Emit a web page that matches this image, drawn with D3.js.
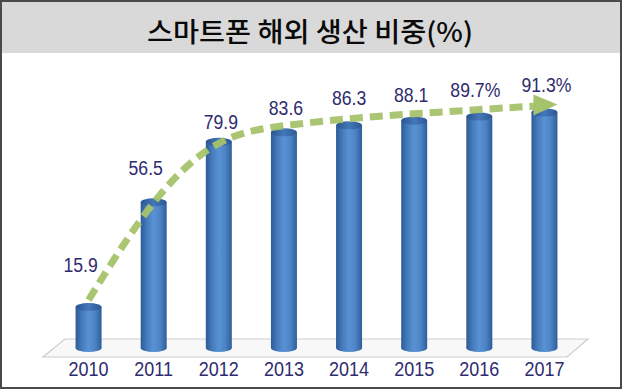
<!DOCTYPE html>
<html>
<head>
<meta charset="utf-8">
<script src="https://cdn.jsdelivr.net/npm/d3@7"></script>
<style>
	body { margin: 0; background: #fff; }
	svg { display: block; font-family: "Liberation Sans", Arial, sans-serif; }
</style>
</head>
<body>
<svg id="chart" width="622" height="389"></svg>
<script>

const TITLE = '스마트폰 해외 생산 비중(%)';
const YEARS = ['2010', '2011', '2012', '2013', '2014', '2015', '2016', '2017'];
const SHARE = [15.9, 56.5, 79.9, 83.6, 86.3, 88.1, 89.7, 91.3];
const VALUE_LABELS = ['15.9', '56.5', '79.9', '83.6', '86.3', '88.1', '89.7%', '91.3%'];

// hand placement of the value labels (dx, dy from bar top)
const LABEL_NUDGE = [[-8, -35], [-8, -27], [2, -13], [2, -17], [0, -20], [-3, -19], [-4, -20], [2, -20]];

function whenDocumentLoaded(action) {
	if (document.readyState === "loading") {
		document.addEventListener("DOMContentLoaded", action);
	} else {
		action();
	}
}

function draw() {
	var svg = d3.select('#chart');
	var W = 622, H = 389;

	// frame + title band
	svg.append('rect')
		.attr('x', 0).attr('y', 0).attr('width', W).attr('height', H)
		.attr('fill', '#fff');
	svg.append('rect')
		.attr('x', 0).attr('y', 0).attr('width', W).attr('height', 53)
		.attr('fill', '#d9d9d9');
	svg.append('text')
		.attr('x', 310).attr('y', 42)
		.attr('text-anchor', 'middle')
		.attr('font-family', '"Noto Sans CJK KR", sans-serif')
		.attr('font-size', 27)
		.attr('font-weight', 500)
		.attr('textLength', 326)
		.attr('lengthAdjust', 'spacingAndGlyphs')
		.attr('fill', '#0a0a0a')
		.text(TITLE);
	svg.append('rect')
		.attr('x', 1).attr('y', 1).attr('width', W - 2).attr('height', H - 2)
		.attr('fill', 'none')
		.attr('stroke', '#4a4a4a')
		.attr('stroke-width', 2);

	var x = d3.scaleBand()
		.domain(YEARS)
		.range([56, 577]);
	var y = d3.scaleLinear()
		.domain([0, 100])
		.range([348, 90]);
	var cx = (d) => x(d) + x.bandwidth() / 2;

	// floor
	svg.append('polygon')
		.attr('points', [[65, 339], [588, 339], [567, 357], [43, 357]].join(' '))
		.attr('fill', '#f8f8f8')
		.attr('stroke', '#cdcdcd')
		.attr('stroke-width', 1.2);

	// gradients for the cylinders
	var defs = svg.append('defs');
	var g1 = defs.append('linearGradient').attr('id', 'cyl').attr('x1', 0).attr('x2', 1).attr('y1', 0).attr('y2', 0);
	[[0, '#2d5a96'], [0.25, '#467cbe'], [0.5, '#5992d4'], [0.75, '#4c83c5'], [1, '#2f5d9a']].forEach(s =>
		g1.append('stop').attr('offset', s[0]).attr('stop-color', s[1]));
	var g2 = defs.append('linearGradient').attr('id', 'cap').attr('x1', 0).attr('x2', 1).attr('y1', 0).attr('y2', 0);
	[[0, '#2a5490'], [0.5, '#4578b8'], [1, '#2c5894']].forEach(s =>
		g2.append('stop').attr('offset', s[0]).attr('stop-color', s[1]));

	var bw = 26, ry = 4;
	var bars = svg.append('g')
		.selectAll('g')
		.data(YEARS.map((d, i) => ({ year: d, v: SHARE[i] })))
		.enter()
		.append('g');
	bars.append('ellipse')
		.attr('cx', (d) => cx(d.year))
		.attr('cy', y(0))
		.attr('rx', bw / 2).attr('ry', ry)
		.attr('fill', 'url(#cyl)');
	bars.append('rect')
		.attr('x', (d) => cx(d.year) - bw / 2)
		.attr('y', (d) => y(d.v))
		.attr('width', bw)
		.attr('height', (d) => y(0) - y(d.v))
		.attr('fill', 'url(#cyl)');
	bars.append('ellipse')
		.attr('cx', (d) => cx(d.year))
		.attr('cy', (d) => y(d.v))
		.attr('rx', bw / 2).attr('ry', ry)
		.attr('fill', 'url(#cap)');

	// dashed trend arrow
	var pts = YEARS.map((d, i) => [cx(d), y(SHARE[i]) - 7]);
	var green = '#a5c36a';
	svg.append('path')
		.attr('d', d3.line().curve(d3.curveBasis)(pts))
		.attr('fill', 'none')
		.attr('stroke', green)
		.attr('stroke-width', 7)
		.attr('stroke-dasharray', '13 7')
		.attr('opacity', 0.95);
	var end = pts[pts.length - 1];
	svg.append('polygon')
		.attr('points', [[end[0] - 11, end[1] - 11], [end[0] + 13, end[1] - 1], [end[0] - 11, end[1] + 10]].join(' '))
		.attr('fill', green);

	// value labels
	svg.append('g')
		.selectAll('text')
		.data(VALUE_LABELS)
		.enter()
		.append('text')
			.attr('transform', (d, i) => `translate(${cx(YEARS[i]) + LABEL_NUDGE[i][0]},${y(SHARE[i]) + LABEL_NUDGE[i][1]}) scale(0.84,1)`)
			.attr('text-anchor', 'middle')
			.attr('font-size', 21)
			.attr('fill', '#2e2b6e')
			.text((d) => d);

	// x axis
	var xAxis = d3.axisBottom(x).tickSize(0).tickPadding(4);
	var ax = svg.append('g')
		.attr('transform', 'translate(0, 358)')
		.call(xAxis);
	ax.select('.domain').remove();
	ax.selectAll('text')
		.attr('font-size', 20)
		.attr('font-family', '"Liberation Sans", Arial, sans-serif')
		.attr('fill', '#2e2b6e')
		.attr('transform', 'scale(0.9,1)');
}

whenDocumentLoaded(draw);
</script>
</body>
</html>
